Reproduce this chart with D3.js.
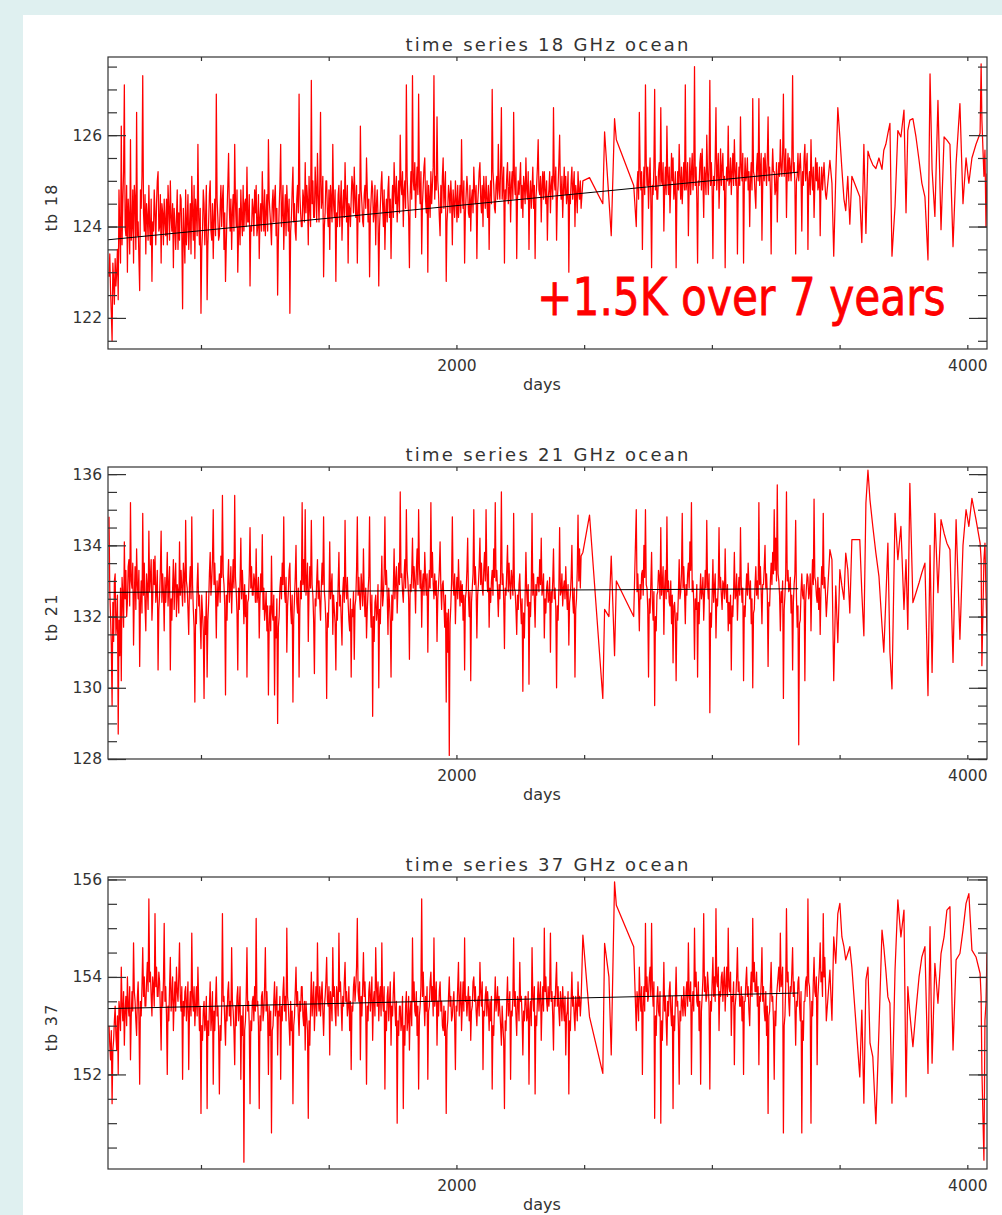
<!DOCTYPE html>
<html>
<head>
<meta charset="utf-8">
<title>time series ocean</title>
<script src="https://cdn.jsdelivr.net/npm/d3@7"></script>
<style>
  body { margin: 0; background: #dff0f0; }
  svg { display: block; }
  text { font-family: "DejaVu Sans", sans-serif; fill: #333; }
</style>
</head>
<body>
<svg id="chart" width="1002" height="1215"></svg>
<script>
// days since launch (shared by the three channels)
const days = [
  640, 643, 646, 649, 652, 655, 658, 661, 664, 667, 670, 673, 676, 679, 682, 685, 688, 691, 694, 697, 700, 703, 706, 709, 712, 715, 718, 721, 724, 727, 730, 733,
  736, 739, 742, 745, 748, 751, 754, 757, 760, 763, 766, 769, 772, 775, 778, 781, 784, 787, 790, 793, 796, 799, 802, 805, 808, 811, 814, 817, 820, 823, 826, 829,
  832, 835, 838, 841, 844, 847, 850, 853, 856, 859, 862, 865, 868, 871, 874, 877, 880, 883, 886, 889, 892, 895, 898, 901, 904, 907, 910, 913, 916, 919, 922, 925,
  928, 931, 934, 937, 940, 943, 946, 949, 952, 955, 958, 961, 964, 967, 970, 973, 976, 979, 982, 985, 988, 991, 994, 997, 1000, 1003, 1006, 1009, 1012, 1015, 1018, 1021,
  1024, 1027, 1030, 1033, 1036, 1039, 1042, 1045, 1048, 1051, 1054, 1057, 1060, 1063, 1066, 1069, 1072, 1075, 1078, 1081, 1084, 1087, 1090, 1093, 1096, 1099, 1102, 1105, 1108, 1111, 1114, 1117,
  1120, 1123, 1126, 1129, 1132, 1135, 1138, 1141, 1144, 1147, 1150, 1153, 1156, 1159, 1162, 1165, 1168, 1171, 1174, 1177, 1180, 1183, 1186, 1189, 1192, 1195, 1198, 1201, 1204, 1207, 1210, 1213,
  1216, 1219, 1222, 1225, 1228, 1231, 1234, 1237, 1240, 1243, 1246, 1249, 1252, 1255, 1258, 1261, 1264, 1267, 1270, 1273, 1276, 1279, 1282, 1285, 1288, 1291, 1294, 1297, 1300, 1303, 1306, 1309,
  1312, 1315, 1318, 1321, 1324, 1327, 1330, 1333, 1336, 1339, 1342, 1345, 1348, 1351, 1354, 1357, 1360, 1363, 1366, 1369, 1372, 1375, 1378, 1381, 1384, 1387, 1390, 1393, 1396, 1399, 1402, 1405,
  1408, 1411, 1414, 1417, 1420, 1423, 1426, 1429, 1432, 1435, 1438, 1441, 1444, 1447, 1450, 1453, 1456, 1459, 1462, 1465, 1468, 1471, 1474, 1477, 1480, 1483, 1486, 1489, 1492, 1495, 1498, 1501,
  1504, 1507, 1510, 1513, 1516, 1519, 1522, 1525, 1528, 1531, 1534, 1537, 1540, 1543, 1546, 1549, 1552, 1555, 1558, 1561, 1564, 1567, 1570, 1573, 1576, 1579, 1582, 1585, 1588, 1591, 1594, 1597,
  1600, 1603, 1606, 1609, 1612, 1615, 1618, 1621, 1624, 1627, 1630, 1633, 1636, 1639, 1642, 1645, 1648, 1651, 1654, 1657, 1660, 1663, 1666, 1669, 1672, 1675, 1678, 1681, 1684, 1687, 1690, 1693,
  1696, 1699, 1702, 1705, 1708, 1711, 1714, 1717, 1720, 1723, 1726, 1729, 1732, 1735, 1738, 1741, 1744, 1747, 1750, 1753, 1756, 1759, 1762, 1765, 1768, 1771, 1774, 1777, 1780, 1783, 1786, 1789,
  1792, 1795, 1798, 1801, 1804, 1807, 1810, 1813, 1816, 1819, 1822, 1825, 1828, 1831, 1834, 1837, 1840, 1843, 1846, 1849, 1852, 1855, 1858, 1861, 1864, 1867, 1870, 1873, 1876, 1879, 1882, 1885,
  1888, 1891, 1894, 1897, 1900, 1903, 1906, 1909, 1912, 1915, 1918, 1921, 1924, 1927, 1930, 1933, 1936, 1939, 1942, 1945, 1948, 1951, 1954, 1957, 1960, 1963, 1966, 1969, 1972, 1975, 1978, 1981,
  1984, 1987, 1990, 1993, 1996, 1999, 2002, 2005, 2008, 2011, 2014, 2017, 2020, 2023, 2026, 2029, 2032, 2035, 2038, 2041, 2044, 2047, 2050, 2053, 2056, 2059, 2062, 2065, 2068, 2071, 2074, 2077,
  2080, 2083, 2086, 2089, 2092, 2095, 2098, 2101, 2104, 2107, 2110, 2113, 2116, 2119, 2122, 2125, 2128, 2131, 2134, 2137, 2140, 2143, 2146, 2149, 2152, 2155, 2158, 2161, 2164, 2167, 2170, 2173,
  2176, 2179, 2182, 2185, 2188, 2191, 2194, 2197, 2200, 2203, 2206, 2209, 2212, 2215, 2218, 2221, 2224, 2227, 2230, 2233, 2236, 2239, 2242, 2245, 2248, 2251, 2254, 2257, 2260, 2263, 2266, 2269,
  2272, 2275, 2278, 2281, 2284, 2287, 2290, 2293, 2296, 2299, 2302, 2305, 2308, 2311, 2314, 2317, 2320, 2323, 2326, 2329, 2332, 2335, 2338, 2341, 2344, 2347, 2350, 2353, 2356, 2359, 2362, 2365,
  2368, 2371, 2374, 2377, 2380, 2383, 2386, 2389, 2392, 2395, 2398, 2401, 2404, 2407, 2410, 2413, 2416, 2419, 2422, 2425, 2428, 2431, 2434, 2437, 2440, 2443, 2446, 2449, 2452, 2455, 2458, 2461,
  2464, 2467, 2470, 2473, 2476, 2479, 2482, 2485, 2488,
  2495, 2521, 2573, 2580, 2597, 2606, 2619, 2626, 2694,
  2704, 2707, 2710, 2713, 2716, 2719, 2722, 2725, 2728, 2731, 2734, 2737, 2740, 2743, 2746, 2749, 2752, 2755, 2758, 2761, 2764, 2767, 2770, 2773, 2776, 2779, 2782, 2785, 2788, 2791, 2794, 2797,
  2800, 2803, 2806, 2809, 2812, 2815, 2818, 2821, 2824, 2827, 2830, 2833, 2836, 2839, 2842, 2845, 2848, 2851, 2854, 2857, 2860, 2863, 2866, 2869, 2872, 2875, 2878, 2881, 2884, 2887, 2890, 2893,
  2896, 2899, 2902, 2905, 2908, 2911, 2914, 2917, 2920, 2923, 2926, 2929, 2932, 2935, 2938, 2941, 2944, 2947, 2950, 2953, 2956, 2959, 2962, 2965, 2968, 2971, 2974, 2977, 2980, 2983, 2986, 2989,
  2992, 2995, 2998, 3001, 3004, 3007, 3010, 3013, 3016, 3019, 3022, 3025, 3028, 3031, 3034, 3037, 3040, 3043, 3046, 3049, 3052, 3055, 3058, 3061, 3064, 3067, 3070, 3073, 3076, 3079, 3082, 3085,
  3088, 3091, 3094, 3097, 3100, 3103, 3106, 3109, 3112, 3115, 3118, 3121, 3124, 3127, 3130, 3133, 3136, 3139, 3142, 3145, 3148, 3151, 3154, 3157, 3160, 3163, 3166, 3169, 3172, 3175, 3178, 3181,
  3184, 3187, 3190, 3193, 3196, 3199, 3202, 3205, 3208, 3211, 3214, 3217, 3220, 3223, 3226, 3229, 3232, 3235, 3238, 3241, 3244, 3247, 3250, 3253, 3256, 3259, 3262, 3265, 3268, 3271, 3274, 3277,
  3280, 3283, 3286, 3289, 3292, 3295, 3298, 3301, 3304, 3307, 3310, 3313, 3316, 3319, 3322, 3325, 3328, 3331, 3334, 3337, 3340, 3343, 3346, 3349, 3352, 3355, 3358, 3361, 3364, 3367, 3370, 3373,
  3376, 3379, 3382, 3385, 3388, 3391, 3394, 3397, 3400, 3403, 3406, 3409, 3412, 3415, 3418, 3421, 3424, 3427, 3430, 3433, 3436, 3439, 3442, 3445, 3448,
  3462, 3470, 3477, 3485, 3493, 3501, 3509, 3517, 3524, 3532, 3540, 3548, 3579, 3587, 3595, 3603,
  3611, 3619, 3630, 3642, 3654, 3666, 3673, 3681, 3689, 3697, 3705, 3717, 3728, 3740, 3752, 3760,
  3767, 3775, 3787, 3799, 3811, 3822, 3834, 3846, 3854, 3862, 3873, 3885, 3897, 3909, 3920, 3932,
  3944, 3956, 3971, 3983, 3995, 4006, 4018, 4034, 4050, 4054, 4057, 4065, 4069, 4073, 4077,
];

const tb18 = [
  122.9, 123.4, 122.6, 122.1, 121.5, 123.2, 122.8, 122.3, 123.3, 122.7, 123.0, 123.5, 122.4, 124.8, 123.9, 123.2, 126.2, 123.6, 124.5, 125.2, 127.1, 124.0, 123.8, 124.9, 123.0, 124.6, 124.2, 123.4, 125.9, 123.7, 124.0, 124.8,
  123.2, 124.9, 124.6, 123.5, 126.5, 123.8, 124.1, 123.3, 122.6, 124.8, 124.4, 125.1, 127.3, 124.3, 123.9, 124.7, 123.4, 124.5, 124.2, 123.7, 124.9, 124.0, 123.6, 124.6, 122.8, 124.1, 123.9, 124.8, 124.3, 123.6, 124.5, 125.0,
  125.2, 123.9, 124.0, 124.7, 123.2, 124.5, 124.3, 123.6, 124.6, 124.1, 123.8, 124.6, 123.6, 124.9, 124.4, 123.7, 125.0, 124.2, 123.9, 124.5, 123.1, 124.4, 124.0, 123.5, 124.2, 124.8, 123.5, 124.3, 123.7, 124.7, 124.6, 123.8,
  122.2, 124.4, 123.8, 123.2, 124.8, 123.6, 124.1, 124.7, 123.5, 124.0, 124.5, 123.4, 125.1, 124.3, 123.7, 124.9, 123.3, 124.6, 124.3, 123.8, 125.8, 124.2, 123.6, 124.4, 122.1, 123.5, 123.9, 124.8, 124.5, 123.6, 124.2, 124.9,
  122.4, 123.6, 124.1, 124.7, 125.0, 123.9, 123.7, 124.5, 123.3, 124.2, 124.6, 123.8, 126.9, 124.6, 124.2, 123.7, 123.8, 124.4, 124.9, 124.0, 124.6, 124.9, 123.5, 124.3, 122.8, 123.6, 124.3, 124.9, 125.6, 124.4, 123.9, 124.6,
  123.5, 124.3, 124.7, 123.9, 125.8, 124.5, 124.0, 124.8, 123.0, 123.8, 124.4, 123.6, 124.8, 124.2, 123.8, 124.9, 123.9, 124.5, 124.6, 124.0, 125.3, 124.1, 124.1, 124.7, 122.7, 124.0, 123.9, 124.6, 124.4, 123.8, 124.8, 124.3,
  124.9, 123.8, 124.0, 124.7, 123.3, 124.2, 124.5, 123.9, 125.2, 124.4, 123.9, 124.8, 123.8, 124.3, 124.7, 123.9, 125.9, 124.6, 124.3, 124.0, 123.6, 124.5, 124.8, 124.1, 124.6, 124.9, 123.8, 124.4, 122.5, 123.7, 124.4, 124.9,
  125.8, 124.0, 124.3, 124.9, 123.5, 124.2, 124.7, 123.8, 124.9, 124.4, 123.9, 124.6, 122.1, 123.9, 124.2, 124.8, 125.3, 124.1, 124.5, 123.9, 123.7, 124.6, 124.9, 124.3, 126.9, 124.7, 124.3, 124.0, 124.0, 124.8, 124.6, 124.1,
  125.4, 124.3, 124.9, 124.6, 123.6, 125.1, 124.4, 124.0, 127.2, 124.5, 125.0, 124.2, 124.2, 125.3, 124.8, 124.1, 125.6, 124.7, 124.1, 124.9, 126.5, 124.4, 124.6, 125.1, 122.9, 124.0, 124.3, 125.0, 125.0, 124.3, 124.0, 124.8,
  123.5, 124.9, 124.6, 124.1, 125.8, 124.5, 124.2, 124.8, 122.8, 124.3, 124.0, 124.7, 124.9, 124.0, 124.5, 125.0, 123.7, 124.4, 124.8, 124.2, 125.4, 124.6, 124.1, 124.9, 123.2, 124.5, 124.4, 124.0, 124.6, 125.1, 124.9, 124.3,
  125.3, 124.6, 124.2, 124.9, 123.2, 124.3, 124.7, 124.1, 126.2, 124.8, 124.5, 124.1, 124.0, 124.7, 124.9, 124.4, 125.5, 124.8, 124.1, 124.6, 122.9, 124.2, 124.6, 125.0, 124.8, 124.1, 124.3, 124.9, 123.6, 124.5, 124.8, 124.2,
  122.7, 124.0, 124.4, 124.9, 125.2, 124.5, 124.0, 124.8, 123.5, 124.3, 124.6, 124.1, 124.8, 125.1, 124.2, 124.6, 123.3, 124.4, 124.9, 124.2, 125.4, 124.8, 124.5, 125.1, 124.1, 124.6, 125.0, 124.3, 126.0, 124.9, 124.7, 125.2,
  124.0, 124.8, 125.0, 124.4, 127.1, 125.1, 124.6, 124.2, 123.1, 124.7, 125.2, 124.6, 127.3, 125.0, 124.8, 125.4, 124.2, 124.9, 125.3, 124.7, 126.9, 124.9, 124.5, 125.2, 123.4, 124.5, 124.9, 125.3, 125.5, 124.6, 124.3, 125.0,
  123.0, 124.9, 124.6, 124.2, 125.2, 124.5, 124.9, 125.3, 127.3, 124.6, 125.1, 124.8, 126.4, 125.0, 124.7, 124.2, 123.8, 124.9, 124.3, 125.1, 125.5, 124.4, 124.8, 125.2, 122.8, 124.1, 124.4, 124.9, 124.7, 124.3, 125.0, 124.6,
  123.6, 124.8, 124.5, 124.2, 125.0, 124.6, 124.1, 124.9, 124.2, 124.5, 124.9, 124.3, 125.9, 124.7, 124.4, 125.0, 123.2, 124.3, 124.7, 125.1, 124.8, 124.3, 124.2, 124.9, 123.9, 124.6, 124.8, 124.3, 125.3, 124.8, 124.5, 124.9,
  123.3, 124.5, 124.8, 125.2, 125.4, 124.6, 124.3, 124.9, 124.0, 125.1, 124.7, 124.4, 125.1, 124.6, 124.2, 124.9, 123.5, 124.7, 125.0, 124.5, 127.0, 125.2, 124.9, 124.4, 124.3, 124.9, 125.1, 124.6, 125.8, 124.8, 124.6, 125.3,
  126.6, 124.6, 124.9, 125.3, 123.2, 124.8, 124.6, 125.1, 125.4, 124.5, 124.8, 125.2, 124.1, 124.9, 125.2, 124.6, 126.5, 125.0, 124.7, 125.3, 123.3, 124.6, 125.0, 124.7, 125.0, 125.4, 124.4, 124.9, 124.2, 125.1, 124.9, 124.5,
  125.5, 124.8, 124.6, 125.2, 123.5, 124.7, 125.0, 124.4, 124.8, 125.3, 124.4, 124.9, 123.3, 124.6, 124.9, 125.3, 125.9, 124.8, 124.7, 125.1, 124.1, 124.9, 125.2, 124.6, 125.2, 124.8, 124.5, 125.0, 123.7, 124.6, 124.8, 125.2,
  124.3, 124.9, 125.1, 124.6, 126.6, 125.0, 124.8, 125.3, 123.7, 124.6, 124.9, 125.4, 126.0, 124.8, 124.6, 125.1, 124.2, 124.8, 125.3, 124.7, 125.1, 124.5, 124.7, 125.2, 123.0, 124.7, 124.5, 125.0, 125.3, 124.6, 124.9, 125.2,
  124.0, 124.9, 124.7, 124.3, 125.2, 124.8, 124.6, 125.0, 124.4,
  125.0, 125.07, 124.5, 126.07, 124.6, 123.8, 126.36, 125.9, 124.9,
  124.0, 124.9, 125.2, 124.6, 126.5, 125.3, 124.8, 125.2, 123.5, 124.8, 125.3, 124.7, 127.1, 125.4, 124.9, 125.3, 124.4, 125.0, 125.5, 124.6, 123.1, 124.9, 124.7, 125.3, 127.0, 124.8, 125.1, 124.6, 124.6, 125.2, 125.4, 124.9,
  126.6, 125.0, 124.9, 125.4, 123.9, 124.8, 125.3, 124.7, 126.2, 125.1, 124.7, 125.3, 124.3, 124.9, 125.6, 125.0, 125.5, 124.6, 124.8, 125.2, 123.1, 124.7, 125.2, 124.8, 125.8, 125.1, 124.6, 125.3, 124.5, 125.0, 125.4, 124.8,
  127.1, 124.8, 125.0, 125.4, 123.8, 124.9, 125.5, 124.7, 125.2, 125.6, 124.8, 125.1, 127.5, 124.9, 125.3, 124.6, 123.2, 125.0, 124.9, 125.4, 125.6, 124.8, 125.7, 125.0, 124.2, 125.3, 125.1, 124.7, 126.0, 125.2, 124.7, 125.3,
  127.2, 124.9, 125.4, 124.8, 123.3, 125.1, 124.9, 125.5, 126.6, 124.8, 125.2, 125.6, 124.4, 125.0, 125.7, 124.9, 125.3, 125.6, 124.8, 125.1, 123.1, 124.8, 125.3, 125.0, 126.2, 124.9, 125.0, 125.5, 124.7, 125.2, 125.6, 124.9,
  125.9, 125.2, 124.9, 125.4, 123.4, 124.8, 125.3, 124.9, 126.4, 125.3, 125.0, 125.6, 123.2, 124.9, 125.5, 125.0, 125.1, 125.5, 124.8, 125.2, 124.0, 125.0, 125.4, 124.8, 126.8, 125.2, 125.1, 124.7, 124.4, 125.3, 125.6, 125.0,
  126.8, 124.9, 125.2, 125.6, 123.7, 124.9, 125.5, 125.0, 125.6, 125.2, 124.9, 125.5, 126.4, 125.0, 125.3, 124.8, 123.4, 125.1, 125.7, 125.2, 125.2, 124.7, 124.8, 125.4, 124.1, 125.0, 125.4, 125.1, 125.9, 125.3, 125.1, 125.6,
  126.9, 125.1, 125.3, 125.7, 124.2, 125.2, 125.6, 125.0, 125.5, 125.3, 125.0, 125.5, 127.3, 125.2, 125.4, 124.9, 123.4, 125.0, 125.1, 125.6, 125.0, 125.3, 125.6, 125.1, 123.9, 125.2, 124.9, 125.5, 125.8, 125.0, 125.3, 125.6,
  123.5, 125.0, 125.2, 124.7, 125.9, 125.1, 124.8, 125.3, 124.2, 124.9, 125.5, 125.0, 125.4, 124.8, 124.9, 125.3, 123.8, 124.9, 125.3, 124.8, 125.1, 125.4, 125.0, 124.7, 124.6,
  125.45, 124.95, 123.35, 125.1, 126.6, 125.96, 125.25, 124.6, 124.35, 125.1, 124.05, 125.1, 124.65, 123.65, 125.8, 123.85,
  125.65, 125.5, 125.35, 125.27, 125.5, 125.25, 125.67, 125.8, 126.04, 126.26, 123.35, 124.45, 126.1, 125.96, 126.55, 124.3,
  126.1, 126.33, 126.36, 125.96, 125.45, 124.95, 124.65, 123.27, 127.34, 125.25, 124.22, 126.76, 123.93, 125.96, 125.89, 125.8,
  123.56, 125.38, 126.69, 124.5, 125.5, 124.95, 125.5, 125.8, 126.04, 127.56, 126.33, 125.1, 125.67, 124.0, 125.16,
];

const tb21 = [
  134.8, 132.7, 132.0, 131.2, 129.5, 132.4, 131.3, 133.0, 133.2, 131.5, 131.8, 132.6, 128.7, 131.9, 130.9, 132.8, 130.2, 133.1, 132.6, 131.7, 134.1, 132.5, 133.3, 132.0, 132.4, 133.4, 133.6, 132.3, 135.2, 133.0, 132.8, 133.5,
  131.2, 132.6, 133.4, 132.2, 133.9, 132.9, 132.5, 133.3, 130.6, 132.4, 133.0, 132.1, 134.9, 132.6, 133.5, 132.3, 131.6, 133.2, 132.8, 132.2, 134.4, 132.7, 133.1, 133.6, 131.9, 132.5, 133.6, 132.9, 133.7, 132.4, 132.7, 133.3,
  130.5, 132.2, 132.6, 133.3, 134.4, 132.4, 133.2, 132.7, 131.6, 133.1, 132.4, 132.9, 133.8, 132.3, 132.9, 133.4, 130.5, 132.5, 131.9, 132.8, 133.6, 132.2, 133.0, 133.5, 132.0, 132.9, 132.7, 132.1, 134.1, 132.6, 133.3, 132.8,
  132.3, 133.5, 133.1, 132.4, 134.7, 133.0, 132.8, 132.2, 131.5, 132.9, 133.4, 132.5, 134.8, 132.9, 132.2, 131.7, 129.6, 132.2, 131.8, 132.9, 133.5, 132.3, 132.6, 131.9, 131.1, 132.6, 132.1, 131.6, 129.7, 132.0, 131.5, 132.7,
  130.3, 131.9, 132.4, 133.2, 133.8, 132.6, 133.0, 133.6, 135.0, 132.9, 133.5, 132.7, 131.4, 133.0, 132.3, 132.8, 133.2, 132.4, 133.7, 133.1, 135.4, 133.2, 132.9, 132.3, 129.8, 132.6, 131.9, 133.0, 133.6, 132.4, 132.8, 133.4,
  132.1, 132.9, 133.6, 132.8, 135.4, 133.1, 132.7, 132.1, 130.5, 132.8, 132.2, 133.0, 134.2, 132.5, 133.3, 132.7, 131.8, 132.9, 132.0, 132.6, 130.3, 132.4, 132.5, 133.2, 134.5, 132.8, 133.4, 132.6, 132.6, 133.2, 133.0, 132.4,
  133.9, 132.4, 132.6, 133.1, 131.4, 132.5, 133.2, 132.7, 134.3, 132.2, 132.8, 131.9, 132.2, 132.7, 131.6, 132.3, 129.8, 131.8, 132.3, 131.6, 133.7, 132.1, 131.9, 132.6, 129.8, 132.0, 131.4, 132.5, 129.0, 131.7, 132.0, 132.8,
  133.1, 132.5, 133.5, 132.9, 134.8, 132.7, 132.4, 133.1, 131.0, 132.3, 132.7, 133.3, 133.5, 132.2, 131.8, 132.6, 129.6, 131.9, 132.5, 133.1, 134.0, 132.4, 132.1, 132.8, 130.3, 132.2, 133.0, 132.5, 135.2, 132.9, 133.6, 132.7,
  135.0, 132.6, 132.9, 133.5, 131.3, 132.7, 133.4, 132.8, 134.7, 132.9, 132.6, 131.9, 130.4, 132.5, 132.3, 133.0, 133.6, 132.5, 133.0, 132.4, 131.9, 132.8, 133.5, 132.9, 134.8, 132.7, 132.4, 131.8, 129.7, 132.1, 131.7, 132.5,
  134.1, 132.5, 132.8, 133.2, 131.5, 132.6, 132.2, 131.8, 130.5, 132.4, 131.9, 132.9, 133.8, 132.3, 132.6, 131.9, 131.2, 132.7, 133.1, 132.4, 134.7, 132.8, 132.5, 133.1, 132.4, 131.9, 131.6, 132.5, 130.3, 132.2, 132.0, 132.7,
  130.8, 132.3, 132.5, 133.3, 134.8, 132.6, 133.1, 132.5, 132.2, 133.2, 132.8, 132.3, 133.9, 132.6, 132.0, 132.8, 131.4, 132.2, 132.7, 133.1, 134.8, 132.4, 131.7, 132.6, 129.2, 132.0, 131.3, 132.4, 132.6, 131.9, 132.2, 132.9,
  130.0, 132.2, 131.8, 132.7, 133.7, 132.3, 132.6, 133.2, 134.8, 132.9, 133.3, 132.6, 131.5, 132.8, 132.4, 131.9, 130.3, 132.6, 131.9, 132.8, 133.9, 132.5, 133.0, 133.4, 132.1, 132.8, 133.5, 132.9, 135.5, 133.1, 133.2, 132.7,
  132.4, 133.1, 133.6, 132.8, 135.0, 133.3, 133.0, 132.5, 130.8, 132.9, 132.7, 133.2, 134.2, 132.8, 133.4, 133.0, 132.1, 133.3, 133.9, 132.9, 135.0, 133.4, 132.8, 133.3, 131.7, 132.9, 133.2, 132.6, 133.8, 133.1, 132.6, 133.2,
  131.0, 132.7, 133.3, 132.8, 135.2, 133.1, 133.8, 132.9, 132.5, 133.2, 132.6, 133.0, 131.3, 132.5, 132.9, 133.3, 134.1, 132.8, 132.2, 132.9, 133.0, 132.4, 131.7, 132.6, 129.6, 132.1, 131.0, 132.2, 128.1, 131.8, 132.3, 133.0,
  134.8, 132.9, 132.6, 133.2, 131.8, 132.7, 133.1, 132.5, 133.6, 132.8, 132.3, 133.0, 132.4, 132.9, 131.9, 132.6, 130.5, 132.5, 132.7, 133.3, 134.2, 132.6, 132.0, 132.7, 130.2, 132.4, 132.8, 133.2, 135.0, 132.9, 133.4, 132.8,
  131.4, 132.6, 132.9, 133.4, 134.2, 132.9, 133.5, 132.8, 132.6, 133.3, 133.8, 133.0, 135.0, 133.2, 132.7, 133.4, 131.7, 132.8, 132.4, 133.0, 133.3, 132.6, 133.9, 133.1, 135.2, 133.0, 133.3, 132.7, 132.0, 132.9, 132.5, 133.2,
  135.5, 132.9, 133.2, 132.5, 131.1, 132.8, 132.6, 133.3, 134.0, 132.7, 133.5, 132.9, 132.5, 133.3, 133.0, 132.6, 134.9, 132.8, 132.7, 132.2, 131.5, 132.6, 132.2, 132.9, 133.2, 132.4, 131.8, 132.5, 129.9, 132.1, 131.4, 132.6,
  133.8, 132.7, 132.3, 132.9, 130.1, 132.4, 132.0, 132.8, 134.9, 132.6, 133.2, 132.5, 131.7, 132.9, 132.6, 133.1, 133.1, 132.7, 133.6, 132.9, 134.2, 132.6, 132.8, 133.2, 131.4, 132.5, 132.1, 132.8, 133.0, 132.4, 132.5, 133.1,
  131.0, 132.7, 132.4, 133.0, 133.9, 132.5, 132.8, 132.2, 130.0, 132.3, 131.9, 132.8, 134.5, 132.6, 132.7, 133.2, 132.3, 132.8, 133.0, 132.5, 133.4, 132.7, 132.2, 132.9, 131.2, 132.4, 132.6, 133.1, 134.0, 132.5, 132.1, 132.8,
  130.3, 132.2, 132.5, 133.3, 134.85, 133.0, 133.9, 132.8, 133.7,
  133.8, 134.85, 129.7, 132.2, 132.0, 133.7, 130.9, 133.0, 132.0,
  135.0, 132.7, 133.2, 132.5, 131.6, 132.9, 132.5, 133.2, 133.3, 132.6, 134.0, 133.1, 135.0, 132.9, 132.8, 132.2, 130.3, 132.5, 132.1, 132.9, 133.8, 132.4, 131.9, 132.7, 129.5, 132.0, 131.6, 132.6, 132.7, 133.3, 133.1, 132.5,
  134.5, 132.6, 132.9, 133.4, 131.5, 132.8, 133.3, 132.5, 134.8, 132.7, 133.0, 132.4, 132.3, 133.0, 131.8, 132.6, 130.7, 132.3, 132.4, 131.9, 130.2, 132.1, 131.9, 132.7, 133.6, 132.5, 132.7, 133.2, 134.9, 132.8, 133.4, 132.7,
  131.8, 132.9, 132.6, 133.2, 133.5, 132.8, 134.1, 133.3, 135.2, 132.7, 133.0, 132.4, 130.8, 132.5, 132.2, 132.9, 130.3, 132.4, 131.8, 132.6, 133.2, 132.5, 132.7, 133.1, 131.9, 132.6, 133.3, 132.8, 134.7, 132.9, 132.5, 133.2,
  129.3, 132.1, 131.7, 132.6, 133.6, 132.4, 132.8, 133.2, 131.4, 132.5, 132.3, 132.9, 134.5, 132.8, 133.1, 132.6, 132.2, 133.0, 132.9, 132.5, 133.9, 132.7, 132.4, 132.9, 131.6, 132.4, 131.8, 132.6, 130.5, 132.3, 132.0, 132.7,
  133.8, 132.5, 132.6, 133.2, 131.9, 132.7, 133.1, 132.6, 134.5, 132.9, 132.4, 132.8, 130.2, 132.3, 132.0, 132.7, 133.2, 132.6, 133.5, 132.9, 132.5, 133.0, 131.8, 132.5, 130.0, 132.1, 132.2, 132.9, 133.4, 132.6, 133.0, 132.5,
  135.2, 132.9, 133.4, 132.7, 131.8, 132.9, 132.9, 133.4, 134.0, 132.8, 133.2, 132.6, 130.6, 132.4, 132.3, 133.0, 133.5, 132.9, 133.8, 133.2, 135.0, 133.3, 134.2, 133.0, 135.7, 133.2, 133.0, 132.6, 131.6, 132.7, 132.4, 133.0,
  129.7, 132.2, 132.6, 133.2, 135.5, 133.0, 133.3, 132.7, 132.8, 133.1, 132.1, 132.6, 130.5, 132.4, 132.9, 133.2, 134.7, 132.6, 131.7, 132.3, 128.4, 131.8, 131.9, 132.7, 133.2, 132.6, 132.5, 132.9, 130.2, 132.4, 132.8, 133.2,
  133.1, 132.5, 132.7, 133.2, 131.6, 132.8, 133.6, 132.9, 135.3, 133.1, 133.0, 132.6, 132.4, 133.1, 132.2, 132.8, 131.5, 132.7, 133.4, 132.9, 134.9, 132.8, 133.1, 132.6, 132.0,
  133.88, 133.6, 130.2, 132.86, 131.27, 133.32, 132.86, 132.48, 133.78, 133.32, 132.1, 134.16, 134.16, 132.67, 131.46, 135.19,
  136.11, 135.27, 134.53, 133.78, 133.13, 131.74, 131.0, 132.48, 134.06, 131.0, 129.97, 134.9, 133.6, 134.53, 132.2, 133.6,
  131.64, 135.74, 132.39, 132.67, 132.95, 133.23, 133.5, 129.78, 134.0, 130.43, 134.9, 132.67, 134.72, 134.34, 134.06, 133.88,
  130.71, 134.72, 131.36, 134.0, 135.0, 134.53, 135.32, 134.72, 134.06, 133.6, 130.62, 133.6, 134.06, 132.67, 131.55,
];

const tb37 = [
  153.0, 152.6, 152.3, 152.9, 151.4, 152.5, 152.7, 153.1, 153.4, 152.8, 152.5, 153.2, 152.0, 153.5, 153.3, 152.9, 154.2, 153.4, 153.1, 153.7, 152.6, 153.3, 153.6, 153.0, 154.0, 153.4, 153.2, 153.8, 152.3, 153.2, 153.7, 153.3,
  154.7, 153.7, 153.5, 153.1, 152.8, 153.6, 153.9, 153.2, 151.8, 153.5, 153.2, 153.8, 154.6, 153.6, 154.0, 153.4, 153.4, 153.9, 154.3, 153.7, 155.6, 153.9, 154.1, 153.6, 153.2, 154.0, 153.8, 153.4, 155.3, 153.8, 154.2, 153.6,
  153.6, 154.1, 153.9, 153.3, 152.5, 153.7, 153.4, 153.9, 155.1, 153.5, 153.8, 153.2, 152.0, 153.4, 153.1, 153.8, 154.4, 153.3, 153.6, 154.0, 152.9, 153.5, 153.9, 153.3, 154.2, 153.7, 153.5, 154.0, 154.7, 153.6, 153.3, 153.8,
  151.9, 153.5, 153.2, 153.7, 153.8, 153.1, 153.5, 153.9, 152.1, 153.3, 153.7, 153.2, 154.9, 153.6, 153.3, 153.8, 153.0, 153.4, 153.8, 153.2, 154.2, 153.5, 152.9, 153.4, 151.2, 153.0, 152.7, 153.3, 153.5, 152.9, 153.1, 153.6,
  151.3, 153.1, 152.8, 153.4, 153.9, 152.9, 153.2, 153.7, 151.8, 153.3, 152.9, 153.5, 154.0, 153.2, 153.4, 152.9, 151.6, 153.0, 152.7, 153.4, 155.3, 153.5, 153.6, 153.1, 152.6, 153.4, 153.1, 153.7, 153.9, 153.2, 153.5, 153.0,
  154.6, 153.5, 153.3, 152.9, 152.2, 153.4, 153.0, 153.6, 153.8, 153.1, 153.4, 153.8, 151.9, 153.2, 152.8, 153.4, 150.2, 152.9, 153.1, 153.6, 154.6, 153.3, 153.5, 153.0, 151.4, 153.1, 152.9, 153.5, 153.6, 153.1, 153.8, 153.3,
  155.2, 153.4, 153.5, 153.0, 151.3, 153.2, 152.9, 153.6, 153.7, 153.1, 153.3, 153.8, 154.6, 153.3, 153.7, 153.2, 152.0, 153.4, 152.8, 153.3, 150.8, 152.9, 153.0, 153.5, 153.9, 153.2, 153.4, 153.8, 152.4, 153.3, 153.2, 153.6,
  151.9, 153.4, 153.1, 153.7, 154.0, 153.3, 153.6, 153.1, 155.0, 153.6, 153.4, 153.0, 152.6, 153.5, 152.9, 153.3, 151.4, 153.0, 153.2, 153.7, 154.2, 153.4, 153.7, 153.2, 152.8, 153.5, 153.3, 153.8, 153.8, 153.2, 153.0, 153.5,
  152.5, 153.5, 153.2, 152.9, 151.1, 153.1, 152.6, 153.4, 154.1, 153.2, 153.5, 153.9, 152.9, 153.4, 153.8, 153.2, 154.7, 153.6, 153.3, 153.8, 153.2, 153.6, 153.9, 153.3, 152.8, 153.4, 153.6, 153.9, 154.4, 153.5, 153.4, 153.8,
  152.4, 153.7, 153.5, 153.1, 154.6, 153.6, 153.8, 153.3, 153.0, 153.8, 153.6, 153.2, 154.9, 153.7, 153.9, 153.4, 152.9, 153.6, 153.4, 153.9, 154.3, 153.5, 153.7, 153.2, 153.4, 153.8, 152.9, 153.5, 152.1, 153.4, 153.3, 153.8,
  154.0, 153.5, 153.8, 154.2, 155.2, 153.7, 153.5, 153.9, 152.3, 153.6, 153.2, 153.8, 154.5, 153.6, 153.9, 153.3, 151.8, 153.4, 153.1, 153.7, 153.9, 153.3, 153.6, 154.0, 152.7, 153.5, 153.7, 153.2, 154.6, 153.8, 153.4, 153.9,
  153.1, 153.6, 153.8, 153.2, 154.7, 153.5, 153.3, 153.8, 151.7, 153.3, 152.9, 153.6, 153.8, 153.1, 153.5, 153.9, 152.6, 153.4, 153.2, 153.7, 154.1, 153.4, 153.0, 153.5, 151.0, 153.1, 152.8, 153.4, 153.4, 152.9, 153.1, 153.6,
  151.3, 153.0, 152.6, 153.4, 153.7, 152.9, 153.1, 153.6, 152.5, 153.3, 153.5, 153.0, 154.8, 153.5, 153.9, 153.3, 153.2, 153.7, 152.8, 153.4, 151.7, 153.2, 153.4, 153.8, 155.6, 153.6, 154.1, 153.5, 153.0, 153.6, 153.3, 153.8,
  151.9, 153.3, 153.4, 153.9, 154.1, 153.5, 153.8, 153.2, 154.8, 153.4, 153.6, 153.9, 152.6, 153.5, 153.2, 153.7, 153.9, 153.3, 153.5, 153.0, 152.9, 153.4, 152.8, 153.3, 151.2, 152.9, 153.1, 153.6, 154.0, 153.4, 153.6, 153.1,
  153.2, 153.5, 153.7, 153.1, 152.1, 153.4, 153.3, 153.8, 154.3, 153.2, 153.5, 153.9, 152.9, 153.4, 153.9, 153.3, 154.8, 153.5, 153.6, 153.2, 153.5, 153.8, 153.1, 153.6, 152.7, 153.3, 153.4, 153.9, 154.0, 153.5, 153.8, 153.3,
  153.0, 153.5, 153.6, 153.2, 154.3, 153.7, 153.4, 153.9, 152.1, 153.3, 153.2, 153.6, 153.8, 153.2, 153.7, 153.4, 152.9, 153.5, 153.1, 153.6, 151.7, 153.0, 152.8, 153.4, 154.0, 153.3, 153.5, 153.8, 153.2, 153.6, 153.3, 153.0,
  152.6, 153.4, 153.0, 152.7, 151.3, 153.1, 152.9, 153.5, 154.0, 153.2, 153.4, 153.7, 151.9, 153.3, 153.2, 153.6, 154.8, 153.4, 153.7, 153.2, 152.8, 153.6, 153.5, 153.1, 154.3, 153.5, 153.6, 153.2, 152.4, 153.3, 153.1, 153.6,
  153.6, 153.1, 153.2, 153.7, 151.8, 153.3, 153.5, 153.0, 154.6, 153.6, 153.3, 153.8, 151.6, 153.2, 153.0, 153.5, 153.9, 153.3, 153.6, 153.9, 152.7, 153.4, 153.8, 153.3, 155.0, 153.7, 154.0, 153.5, 153.3, 153.8, 153.4, 153.7,
  154.9, 153.5, 153.7, 153.2, 152.5, 153.6, 153.4, 153.9, 154.3, 153.4, 153.8, 153.3, 153.0, 153.7, 153.5, 153.1, 153.8, 153.4, 153.1, 153.6, 152.4, 153.2, 153.3, 153.7, 151.6, 153.1, 152.9, 153.5, 154.1, 153.4, 153.6, 153.2,
  152.9, 153.6, 153.4, 153.1, 153.9, 153.4, 153.6, 153.2, 153.5,
  154.86, 153.18, 152.02, 154.69, 154.0, 152.4, 155.95, 155.47, 154.62,
  152.9, 153.7, 153.5, 153.1, 154.2, 153.6, 153.3, 153.8, 152.0, 153.4, 153.8, 153.3, 155.1, 153.7, 154.0, 153.5, 153.6, 154.0, 154.2, 153.6, 155.1, 153.8, 153.4, 153.9, 151.1, 153.2, 152.8, 153.5, 153.8, 153.3, 153.2, 153.7,
  151.0, 153.1, 152.7, 153.4, 154.3, 153.3, 153.6, 153.1, 152.6, 153.5, 153.2, 153.7, 153.9, 153.3, 153.0, 153.6, 151.3, 153.2, 152.9, 153.5, 154.2, 153.4, 153.5, 153.0, 151.8, 153.3, 153.1, 153.6, 153.5, 153.2, 153.8, 153.4,
  153.2, 153.7, 153.9, 153.4, 154.7, 153.6, 153.5, 153.9, 152.0, 153.4, 153.7, 153.3, 155.0, 153.8, 154.1, 153.5, 153.4, 153.9, 152.9, 153.5, 151.8, 153.3, 153.6, 154.0, 155.3, 153.7, 154.0, 153.5, 153.6, 154.1, 153.8, 153.4,
  151.7, 153.5, 153.3, 153.9, 154.4, 153.6, 154.0, 153.5, 155.4, 153.9, 153.8, 154.2, 152.9, 153.7, 153.6, 154.0, 154.1, 153.5, 153.9, 154.2, 153.3, 153.8, 154.2, 153.6, 155.0, 153.8, 153.7, 154.1, 152.8, 153.6, 153.5, 153.9,
  152.2, 153.4, 153.6, 154.0, 154.6, 153.7, 153.9, 153.4, 153.4, 153.8, 153.1, 153.6, 152.0, 153.5, 153.5, 153.9, 154.2, 153.6, 153.8, 153.3, 153.0, 153.7, 154.1, 153.6, 155.2, 153.9, 154.3, 153.7, 153.7, 154.1, 153.4, 153.8,
  152.2, 153.6, 153.5, 153.9, 154.6, 153.5, 153.8, 153.3, 153.1, 153.7, 152.8, 153.4, 151.2, 153.2, 153.3, 153.8, 154.3, 153.5, 153.6, 153.1, 151.9, 153.3, 153.0, 153.6, 153.8, 154.0, 154.2, 153.7, 154.9, 153.8, 153.9, 154.2,
  150.8, 153.0, 153.2, 153.8, 155.4, 153.9, 154.1, 153.5, 153.2, 153.8, 153.7, 154.1, 154.6, 153.6, 153.9, 153.4, 152.6, 153.5, 153.4, 153.9, 154.0, 153.4, 153.1, 153.7, 150.8, 153.1, 152.7, 153.5, 153.5, 153.9, 154.0, 153.6,
  155.6, 153.9, 153.8, 153.3, 151.0, 153.5, 153.2, 153.9, 154.4, 153.7, 153.6, 154.0, 152.2, 153.6, 153.9, 154.2, 154.7, 153.9, 154.1, 153.6, 155.3, 154.0, 154.4, 153.8, 153.1,
  154.14, 153.11, 154.82, 154.28, 155.3, 155.51, 154.82, 154.62, 154.35, 154.48, 154.62, 154.2, 151.95, 153.32, 151.41, 153.94,
  154.2, 152.64, 152.36, 150.99, 152.91, 154.96, 154.62, 154.14, 153.59, 153.46, 151.41, 154.14, 155.58, 154.82, 155.37, 151.54,
  153.8, 153.25, 152.57, 153.32, 154.0, 154.41, 154.62, 152.02, 155.03, 152.23, 154.28, 153.46, 154.48, 154.82, 155.37, 155.44,
  152.5, 154.35, 154.48, 154.96, 155.51, 155.71, 154.55, 154.41, 154.07, 153.59, 152.09, 150.24, 153.11, 153.46, 154.48,
];

// linear fits over the dense period
const trendDays = [636, 3338];
const trend18 = [123.71, 125.19];
const trend21 = [132.68, 132.78];
const trend37 = [153.35, 153.67];

const titles = ["time series 18 GHz ocean", "time series 21 GHz ocean", "time series 37 GHz ocean"];
const yTitles = ["tb 18", "tb 21", "tb 37"];
const xTicks = [1000, 1500, 2000, 2500, 3000, 3500, 4000];
const xLabelled = [2000, 4000];
const yLabelled = [[122, 124, 126], [128, 130, 132, 134, 136], [152, 154, 156]];
const note = "+1.5K over 7 years";

const width = 1002;
const height = 1215;
const left = 108;
const right = 987;
const tops = [57, 467, 877];
const plotH = 292;

const panels = [
  { values: tb18, trend: trend18, domain: [121.32, 127.71] },
  { values: tb21, trend: trend21, domain: [128.0, 136.2] },
  { values: tb37, trend: trend37, domain: [150.06, 156.05] },
];

const svg = d3.select("#chart");

svg.append("rect")
  .attr("x", 23)
  .attr("y", 15)
  .attr("width", width - 23)
  .attr("height", height - 15)
  .attr("fill", "#fff");

const x = d3.scaleLinear().domain([636, 4077]).range([left, right]);

const line = (yScale) => d3.line()
  .x(d => x(d[0]))
  .y(d => yScale(d[1]));

panels.forEach((p, i) => {
  const top = tops[i];
  const bottom = top + plotH;
  const y = d3.scaleLinear().domain(p.domain).range([bottom, top]);
  const g = svg.append("g");

  const [lo, hi] = p.domain;
  const minor = d3.range(Math.ceil(lo * 2) / 2, hi, 0.5);

  g.append("clipPath")
    .attr("id", `clip${i}`)
    .append("rect")
    .attr("x", left)
    .attr("y", top)
    .attr("width", right - left)
    .attr("height", plotH);

  // data
  g.append("path")
    .datum(d3.zip(days, p.values))
    .attr("clip-path", `url(#clip${i})`)
    .attr("fill", "none")
    .attr("stroke", "#ff0000")
    .attr("stroke-width", 1.25)
    .attr("stroke-linejoin", "round")
    .attr("d", line(y));

  g.append("path")
    .datum(d3.zip(trendDays, p.trend))
    .attr("fill", "none")
    .attr("stroke", "#000")
    .attr("stroke-width", 1)
    .attr("d", line(y));

  // frame
  g.append("rect")
    .attr("x", left)
    .attr("y", top)
    .attr("width", right - left)
    .attr("height", plotH)
    .attr("fill", "none")
    .attr("stroke", "#333")
    .attr("stroke-width", 1.2);

  // y ticks, left and right
  const yMinorLeft = d3.axisLeft(y).tickValues(minor).tickSize(-9).tickFormat("");
  const yMajorLeft = d3.axisLeft(y).tickValues(yLabelled[i]).tickSize(-18).tickPadding(6)
    .tickFormat(d3.format("d"));
  const yMinorRight = d3.axisRight(y).tickValues(minor).tickSize(-9).tickFormat("");
  const yMajorRight = d3.axisRight(y).tickValues(yLabelled[i]).tickSize(-18).tickFormat("");

  g.append("g").attr("transform", `translate(${left},0)`).call(yMinorLeft);
  g.append("g").attr("transform", `translate(${left},0)`).call(yMajorLeft)
    .selectAll("text").attr("font-size", 15.5);
  g.append("g").attr("transform", `translate(${right},0)`).call(yMinorRight);
  g.append("g").attr("transform", `translate(${right},0)`).call(yMajorRight);

  // x ticks, bottom and top
  const xBottom = d3.axisBottom(x).tickValues(xTicks).tickSize(-4).tickPadding(11)
    .tickFormat(d => (xLabelled.includes(d) ? d : ""));
  const xTop = d3.axisTop(x).tickValues(xTicks).tickSize(-4).tickFormat("");

  g.append("g").attr("transform", `translate(0,${bottom})`).call(xBottom)
    .selectAll("text").attr("font-size", 15.5);
  g.append("g").attr("transform", `translate(0,${top})`).call(xTop);

  g.selectAll(".domain").remove();
  g.selectAll(".tick line").attr("stroke", "#333").attr("stroke-width", 1.2);
  g.selectAll(".tick text").attr("fill", "#333").attr("font-family", "DejaVu Sans, sans-serif");

  // titles
  g.append("text")
    .attr("x", 547)
    .attr("y", top - 6)
    .attr("text-anchor", "middle")
    .attr("font-size", 18)
    .attr("textLength", 283)
    .attr("lengthAdjust", "spacing")
    .text(titles[i]);

  g.append("text")
    .attr("x", 542)
    .attr("y", bottom + 41)
    .attr("text-anchor", "middle")
    .attr("font-size", 16)
    .text("days");

  g.append("text")
    .attr("transform", `translate(57,${top + plotH / 2 + 5}) rotate(-90)`)
    .attr("text-anchor", "middle")
    .attr("font-size", 16)
    .attr("textLength", 47)
    .attr("lengthAdjust", "spacing")
    .text(yTitles[i]);
});

// annotation, squeezed horizontally to the reference width
svg.append("text")
  .attr("transform", "translate(537,315) scale(0.83,1)")
  .attr("font-family", "'Comic Sans MS', 'Noto Sans', sans-serif")
  .attr("font-size", 51)
  .style("fill", "#ff0000")
  .style("stroke", "#ff0000")
  .style("stroke-width", 0.8)
  .text(note);
</script>
</body>
</html>
